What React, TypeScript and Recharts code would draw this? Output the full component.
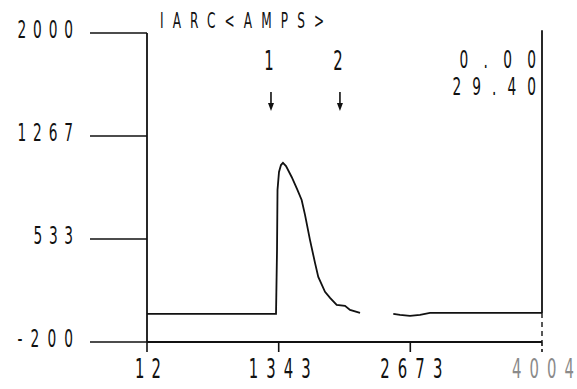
import React from "react";
import { LineChart, Line, XAxis, YAxis, ReferenceLine } from "recharts";

// Arc current trace (time index vs amps)
const timeIdx = [
  12, 1316, 1326, 1331, 1346, 1366, 1386, 1417, 1474, 1528, 1575, 1609, 1659, 1710, 1743,
  1811, 1862, 1929, 2013, 2064, 2165, 2330, 2501, 2569, 2670, 2771, 2872, 4004,
];
const arcAmps: (number | null)[] = [
  0, 0, 455, 883, 1011, 1060, 1075, 1053, 975, 890, 811, 705, 527, 363, 263,
  157, 114, 64, 57, 28, 7, null, 0, -7, -14, -7, 7, 7,
];

const xTicks = [12, 1343, 2673, 4004];
const yTicks = [-200, 533, 1267, 2000];
const yTickLabels = ["-200", "533", "1267", "2000"];

const title = "IARC<AMPS>";
const markers = [
  { label: "1", at: 1265 },
  { label: "2", at: 1962 },
];
const readouts = ["0.00", "29.40"];

const data = timeIdx.map((t, i) => ({ t, amps: arcAmps[i] }));

const FONT = "'DejaVu Sans', sans-serif";
const INK = "#111";

// plotter-style lettering: tall narrow glyphs with wide, even spacing
const Letters = ({ x, y, text, size, pitch, anchor = "start", fill = INK, sx = 0.55 }: any) => {
  const width = (text.length - 1) * pitch + size * 0.3;
  return (
    <text
      transform={`translate(${x},${y}) scale(${sx},1)`}
      textAnchor={anchor}
      textLength={width / sx}
      lengthAdjust="spacing"
      fontFamily={FONT}
      fontSize={size}
      fill={fill}
    >
      {text}
    </text>
  );
};

const YTick = ({ x, y, payload }: any) => {
  const idx = yTicks.indexOf(payload.value);
  return (
    <g>
      <line x1={x - 57} y1={y} x2={x} y2={y} stroke={INK} strokeWidth={1.6} />
      <Letters x={x - 74} y={y + 5} text={yTickLabels[idx] ?? String(payload.value)} size={25} pitch={16} anchor="end" />
    </g>
  );
};

const XTick = ({ x, y, payload }: any) => {
  const last = payload.value === xTicks[xTicks.length - 1];
  return (
    <g>
      <line
        x1={x}
        y1={y}
        x2={x}
        y2={y + 10}
        stroke={INK}
        strokeWidth={1.6}
        strokeDasharray={last ? "4 3" : undefined}
      />
      <Letters
        x={x + 1}
        y={y + 36}
        text={String(payload.value)}
        size={27}
        pitch={18}
        anchor="middle"
        fill={last ? "#8a8a8a" : INK}
      />
    </g>
  );
};

export default function App() {
  // marker positions follow the plot area (147..542 px for 12..4004)
  const toPx = (v: number) => 147 + ((v - 12) / (4004 - 12)) * 395;
  return (
    <div style={{ position: "absolute", left: 0, top: 0, width: 577, height: 389, background: "#fff" }}>
      <LineChart
        width={577}
        height={389}
        data={data}
        margin={{ top: 33, right: 35, bottom: 0, left: 0 }}
      >
        <XAxis
          dataKey="t"
          type="number"
          domain={[12, 4004]}
          ticks={xTicks}
          height={47}
          tickSize={0}
          tickMargin={0}
          tick={<XTick />}
          axisLine={{ stroke: INK, strokeWidth: 1.8 }}
          allowDataOverflow
        />
        <YAxis
          type="number"
          domain={[-200, 2000]}
          ticks={yTicks}
          width={147}
          tickSize={0}
          tickMargin={0}
          tick={<YTick />}
          axisLine={{ stroke: INK, strokeWidth: 1.8 }}
          allowDataOverflow
        />
        <ReferenceLine
          segment={[{ x: 4004, y: 2020 }, { x: 4004, y: 7 }]}
          stroke={INK}
          strokeWidth={1.8}
          ifOverflow="visible"
        />
        <ReferenceLine
          segment={[{ x: 4004, y: 7 }, { x: 4004, y: -200 }]}
          stroke={INK}
          strokeWidth={1.4}
          strokeDasharray="5 4"
          ifOverflow="visible"
        />
        <Line
          dataKey="amps"
          type="linear"
          stroke={INK}
          strokeWidth={1.8}
          dot={false}
          isAnimationActive={false}
          connectNulls={false}
        />
        <g>
          <Letters x={160} y={28} text={title} size={22} pitch={17.5} />
          {markers.map((m) => {
            const px = toPx(m.at);
            return (
              <g key={m.label}>
                <Letters x={px - 2} y={70} text={m.label} size={27} pitch={16} anchor="middle" />
                <line x1={px} y1={92} x2={px} y2={104} stroke={INK} strokeWidth={1.6} />
                <polygon points={`${px - 3},103 ${px + 3},103 ${px},111`} fill={INK} />
              </g>
            );
          })}
          {readouts.map((r, i) => (
            <Letters key={r} x={536} y={68 + i * 27} text={r} size={25} pitch={i === 0 ? 23 : 19} anchor="end" />
          ))}
        </g>
      </LineChart>
    </div>
  );
}
